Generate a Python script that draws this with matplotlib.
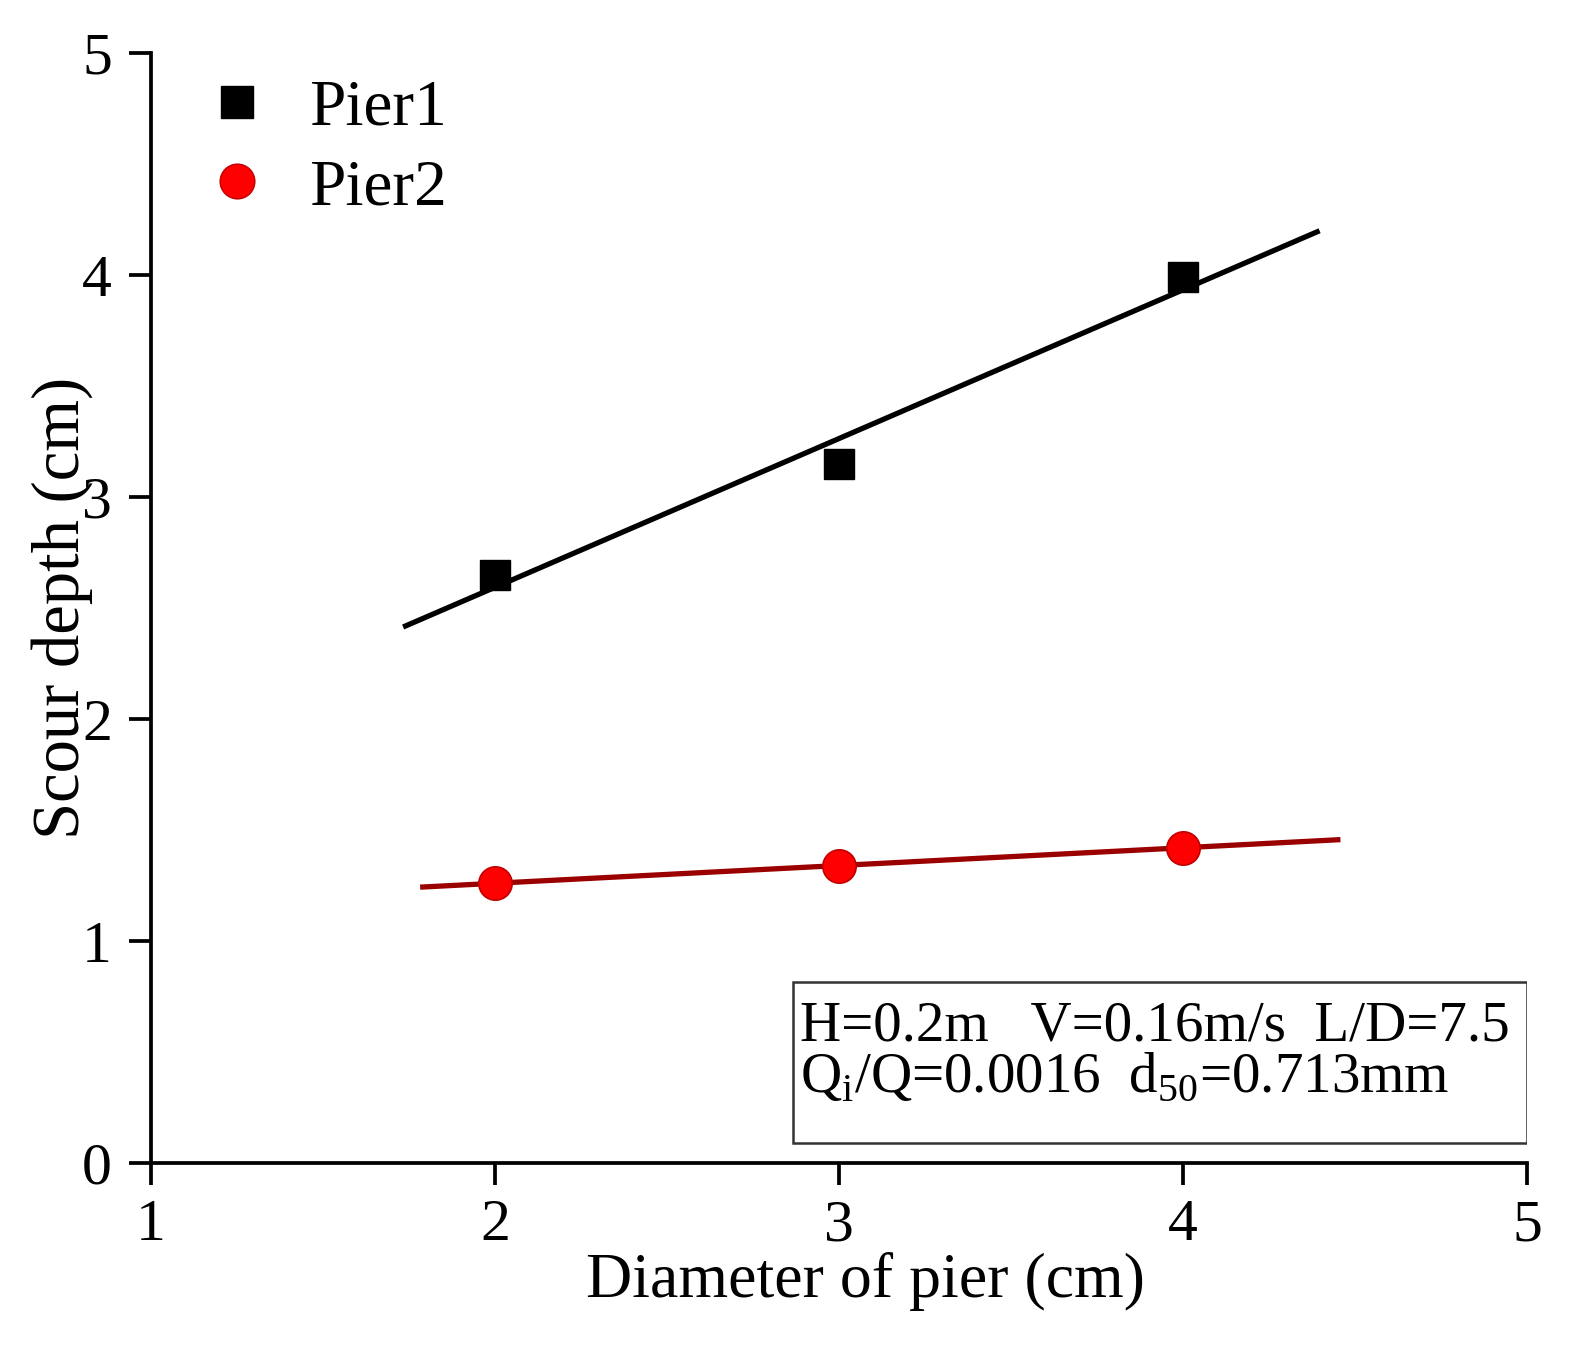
import numpy as np
import matplotlib
matplotlib.use("Agg")
import matplotlib.pyplot as plt
from matplotlib.patches import Rectangle
from matplotlib.lines import Line2D

plt.rcParams['font.family'] = ['Liberation Serif', 'DejaVu Serif']
plt.rcParams['mathtext.fontset'] = 'custom'
plt.rcParams['mathtext.rm'] = 'Liberation Serif'

# data
diameter = [2, 3, 4]
pier1 = [2.65, 3.15, 3.99]
pier2 = [1.26, 1.34, 1.42]
fit1_range = [1.74, 4.39]
fit2_range = [1.79, 4.45]
series_names = ["Pier1", "Pier2"]
x_ticks = [1, 2, 3, 4, 5]
y_ticks = [0, 1, 2, 3, 4, 5]
xlabel = "Diameter of pier (cm)"
ylabel = "Scour depth (cm)"
info_line1 = "H=0.2m   V=0.16m/s  L/D=7.5"
info_line2 = r"Q$_\mathregular{i}$/Q=0.0016  d$_\mathregular{50}$=0.713mm"

fig = plt.figure(figsize=(15.82, 13.46), dpi=100)
ax = fig.add_axes([151/1582, 1 - 1163/1346, (1527-151)/1582, (1163-53)/1346])

# fit lines
c1 = np.polyfit(diameter, pier1, 1)
c2 = np.polyfit(diameter, pier2, 1)
xf1 = np.array(fit1_range)
xf2 = np.array(fit2_range)
ax.plot(xf1, np.polyval(c1, xf1), color='black', lw=3.8, zorder=2)
ax.plot(xf2, np.polyval(c2, xf2), color='#9a0000', lw=3.8, zorder=2)

ax.plot(diameter, pier1, linestyle='none', marker='s', ms=22, color='black', zorder=3)
ax.plot(diameter, pier2, linestyle='none', marker='o', ms=24, mfc='#ff0000',
        mec='#c00000', mew=1.2, zorder=3)

ax.set_xlim(1, 5)
ax.set_ylim(0, 5)
ax.set_xticks(x_ticks)
ax.set_yticks(y_ticks)
for s in ['top', 'right']:
    ax.spines[s].set_visible(False)
for s in ['left', 'bottom']:
    ax.spines[s].set_linewidth(2.7)
ax.tick_params(direction='out', length=16, width=2.7, labelsize=43, pad=12)
ax.tick_params(axis='x', pad=10)

ax.set_xlabel(xlabel, fontsize=46)
ax.xaxis.set_label_coords(0.519, -0.080)
ax.set_ylabel(ylabel, fontsize=48)
ax.yaxis.set_label_coords(-0.042, 0.5)

# legend
h1 = Line2D([], [], linestyle='none', marker='s', ms=23, color='black')
h2 = Line2D([], [], linestyle='none', marker='o', ms=25, mfc='#ff0000', mec='#c00000')
ax.legend([h1, h2], series_names, loc='upper left', bbox_to_anchor=(0.02, 1.0),
          frameon=False, fontsize=47, handlelength=1.0, handletextpad=0.6,
          labelspacing=0.3, borderaxespad=0.0)

# info box
ax.add_patch(Rectangle((0.4666, 0.018), 1.0 - 0.4666, 0.163 - 0.018,
                       transform=ax.transAxes, fill=True, fc='white', ec='#333333',
                       lw=1.8, zorder=4))
ax.text(0.4717, 0.110, info_line1, transform=ax.transAxes, fontsize=41,
        ha='left', va='baseline', zorder=5)
ax.text(0.4717, 0.064, info_line2, transform=ax.transAxes, fontsize=41,
        ha='left', va='baseline', zorder=5)

fig.savefig("out.png", dpi=100)
